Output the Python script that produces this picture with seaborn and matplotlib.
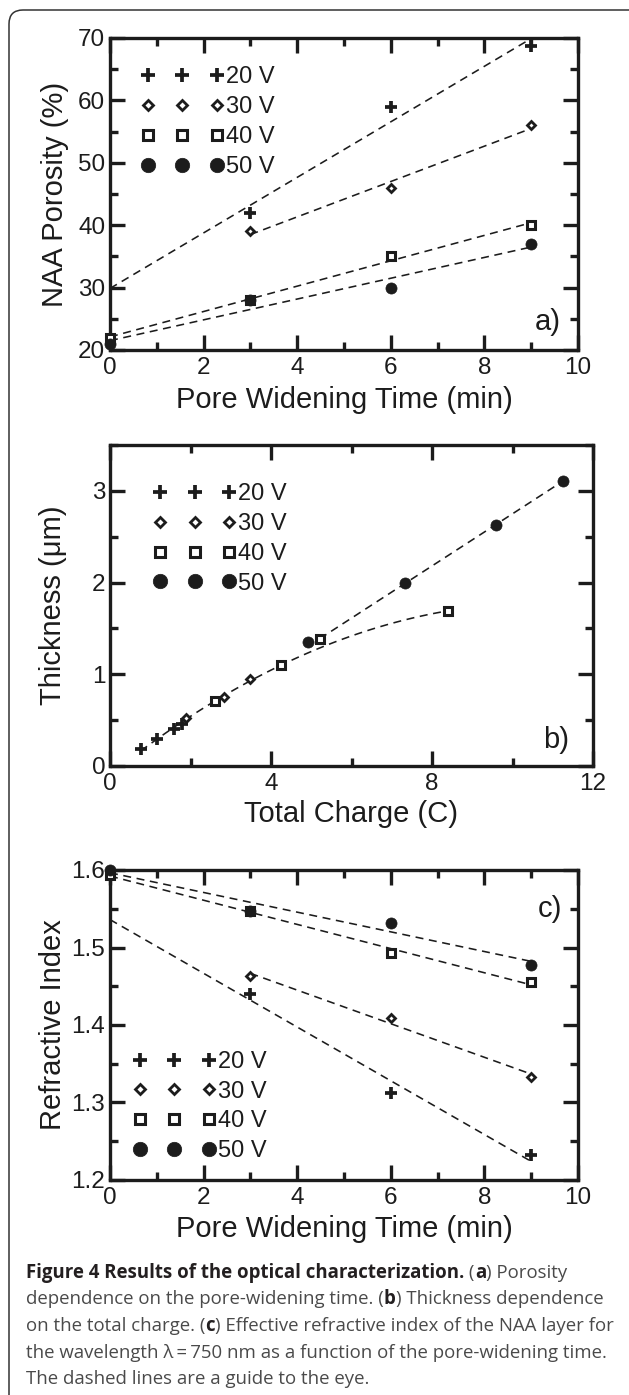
import numpy as np
import matplotlib
matplotlib.use("Agg")
import matplotlib.pyplot as plt
import seaborn as sns
from matplotlib.ticker import MultipleLocator
from matplotlib.patches import FancyBboxPatch
from matplotlib.transforms import IdentityTransform

# a) NAA porosity vs pore widening time (min)
a_t20 = [3, 6, 9]
a_p20 = [42, 59, 68.7]
a_t30 = [3, 6, 9]
a_p30 = [39, 46, 56]
a_t40 = [0, 3, 6, 9]
a_p40 = [22, 28, 35, 40]
a_t50 = [0, 3, 6, 9]
a_p50 = [21, 28, 30, 37]

# b) thickness (um) vs total charge (C)
b_q20 = [0.76, 1.18, 1.59, 1.78]
b_h20 = [0.19, 0.29, 0.40, 0.46]
b_q30 = [1.89, 2.82, 3.48]
b_h30 = [0.52, 0.75, 0.95]
b_q40 = [2.61, 4.24, 5.21, 8.40]
b_h40 = [0.71, 1.10, 1.39, 1.69]
b_q50 = [4.92, 7.33, 9.60, 11.25]
b_h50 = [1.35, 1.99, 2.63, 3.11]

# c) refractive index vs pore widening time (min)
c_t20 = [3, 6, 9]
c_n20 = [1.440, 1.312, 1.232]
c_t30 = [3, 6, 9]
c_n30 = [1.463, 1.409, 1.333]
c_t40 = [0, 3, 6, 9]
c_n40 = [1.593, 1.547, 1.493, 1.455]
c_t50 = [0, 3, 6, 9]
c_n50 = [1.600, 1.547, 1.532, 1.478]

labels = ["20 V", "30 V", "40 V", "50 V"]

ink = "#1c1c1c"
marker_kws = {
    "20 V": dict(marker="+", markersize=8, markeredgewidth=2.7, markerfacecolor=ink, markeredgecolor=ink),
    "30 V": dict(marker="D", markersize=4.2, markeredgewidth=2.0, markerfacecolor="white", markeredgecolor=ink),
    "40 V": dict(marker="s", markersize=6, markeredgewidth=2.2, markerfacecolor="white", markeredgecolor=ink),
    "50 V": dict(marker="o", markersize=8, markeredgewidth=0.5, markerfacecolor=ink, markeredgecolor=ink),
}

sns.set_theme(style="ticks")
plt.rcParams["font.family"] = ["Liberation Sans", "DejaVu Sans"]
plt.rcParams.update({
    "axes.linewidth": 2.4,
    "axes.edgecolor": ink,
    "axes.labelcolor": ink,
    "text.color": ink,
    "xtick.color": ink,
    "ytick.color": ink,
})

W, H = 629, 1395
fig = plt.figure(figsize=(W / 100, H / 100), dpi=100)
fig.patch.set_facecolor("white")


def box(l, t, r, b):
    return [l / W, 1 - b / H, (r - l) / W, (b - t) / H]


ax_a = fig.add_axes(box(110, 38, 578, 350))
ax_b = fig.add_axes(box(110, 445, 593, 766))
ax_c = fig.add_axes(box(110, 870, 578, 1180))

dash = (0, (5, 3.5))


def guide(ax, xs, ys, x0, x1, deg=1):
    coef = np.polyfit(xs, ys, deg)
    gx = np.linspace(x0, x1, 60)
    sns.lineplot(x=gx, y=np.polyval(coef, gx), ax=ax, color=ink, linewidth=1.15,
                 linestyle=dash, zorder=2, legend=False)


def points(ax, xs, ys, lab):
    sns.lineplot(x=xs, y=ys, ax=ax, color=ink, linestyle="", label=lab,
                 zorder=3, clip_on=False, **marker_kws[lab])


def finish(ax, xlim, ylim, xmaj, xmin, ymaj, ymin, xlabel, ylabel, tag, tagpos,
           legpos, ylab_x, xlab_y):
    ax.set_xlim(xlim)
    ax.set_ylim(ylim)
    ax.xaxis.set_major_locator(MultipleLocator(xmaj))
    ax.xaxis.set_minor_locator(MultipleLocator(xmin))
    ax.yaxis.set_major_locator(MultipleLocator(ymaj))
    ax.yaxis.set_minor_locator(MultipleLocator(ymin))
    ax.tick_params(which="both", direction="in", top=True, right=True,
                   width=2.4, labelsize=17.5)
    ax.tick_params(which="major", length=11)
    ax.tick_params(which="minor", length=5.5)
    ax.tick_params(axis="x", pad=5)
    ax.tick_params(axis="y", pad=3.5)
    ax.set_xlabel(xlabel, fontsize=21)
    ax.set_ylabel(ylabel, fontsize=21)
    ax.yaxis.set_label_coords(ylab_x, 0.5)
    ax.xaxis.set_label_coords(0.5, xlab_y)
    ax.text(tagpos[0], tagpos[1], tag, transform=ax.transAxes, fontsize=21,
            ha="center", va="center")
    ax.legend(loc="upper left", bbox_to_anchor=legpos, borderaxespad=0,
              frameon=False, numpoints=3, markerscale=1.3, fontsize=17,
              handlelength=3.5, handletextpad=0.1, labelspacing=0.33,
              borderpad=0.4)
    ax.set_facecolor("white")


# panel a
guide(ax_a, a_t20, a_p20, 0, 9)
guide(ax_a, a_t30, a_p30, 3, 9)
guide(ax_a, a_t40, a_p40, 0, 9)
guide(ax_a, a_t50, a_p50, 0, 9)
for xs, ys, lab in zip([a_t20, a_t30, a_t40, a_t50], [a_p20, a_p30, a_p40, a_p50], labels):
    points(ax_a, xs, ys, lab)
finish(ax_a, (0, 10), (20, 70), 2, 1, 10, 5, "Pore Widening Time (min)",
       "NAA Porosity (%)", "a)", (0.936, 0.09), (0.046, 0.939), -0.088, -0.115)

# panel b: lower guide through the low-charge points, upper guide through the high ones
low_q = b_q20 + b_q30 + b_q40[:2] + b_q40[3:]
low_h = b_h20 + b_h30 + b_h40[:2] + b_h40[3:]
high_q = b_q40[2:3] + b_q50[1:]
high_h = b_h40[2:3] + b_h50[1:]
guide(ax_b, low_q, low_h, min(low_q), max(low_q), deg=2)
guide(ax_b, high_q, high_h, min(high_q), max(high_q))
for xs, ys, lab in zip([b_q20, b_q30, b_q40, b_q50], [b_h20, b_h30, b_h40, b_h50], labels):
    points(ax_b, xs, ys, lab)
finish(ax_b, (0, 12), (0, 3.5), 4, 2, 1, 0.5, "Total Charge (C)",
       "Thickness (\u03bcm)", "b)", (0.923, 0.081), (0.070, 0.910), -0.089, -0.106)

# panel c
guide(ax_c, c_t20, c_n20, 0, 9)
guide(ax_c, c_t30, c_n30, 3, 9)
guide(ax_c, c_t40, c_n40, 0, 9)
guide(ax_c, c_t50, c_n50, 0, 9)
for xs, ys, lab in zip([c_t20, c_t30, c_t40, c_t50], [c_n20, c_n30, c_n40, c_n50], labels):
    points(ax_c, xs, ys, lab)
finish(ax_c, (0, 10), (1.2, 1.6), 2, 1, 0.1, 0.05, "Pore Widening Time (min)",
       "Refractive Index", "c)", (0.94, 0.874), (0.029, 0.447), -0.092, -0.113)

# frame around the figure
frame = FancyBboxPatch((9, -40), 660, H - 10 + 40, boxstyle="round,pad=0,rounding_size=14",
                       transform=IdentityTransform(), fill=False, edgecolor="#333333",
                       linewidth=1.1)
fig.add_artist(frame)

# caption
cap_font = ["Open Sans", "DejaVu Sans"]
cap_size = 13.4
grey = "#4a4a4a"
dark = "#231f20"
caption = [
    [("Figure 4 Results of the optical characterization.", "bold"), (" (", "normal"),
     ("a", "bold"), (") Porosity", "normal")],
    [("dependence on the pore-widening time. (", "normal"), ("b", "bold"),
     (") Thickness dependence", "normal")],
    [("on the total charge. (", "normal"), ("c", "bold"),
     (") Effective refractive index of the NAA layer for", "normal")],
    [("the wavelength \u03bb\u2009=\u2009750 nm as a function of the pore-widening time.", "normal")],
    [("The dashed lines are a guide to the eye.", "normal")],
]
line_y = [1273, 1299, 1326, 1353, 1379]
renderer = fig.canvas.get_renderer()
for pieces, ly in zip(caption, line_y):
    x = 26
    for txt, weight in pieces:
        t = fig.text(x / W, 1 - ly / H, txt, fontsize=cap_size, family=cap_font,
                     fontweight=weight, color=dark if weight == "bold" else grey,
                     ha="left", va="center")
        x = t.get_window_extent(renderer).x1

fig.savefig("out.png", dpi=100)
